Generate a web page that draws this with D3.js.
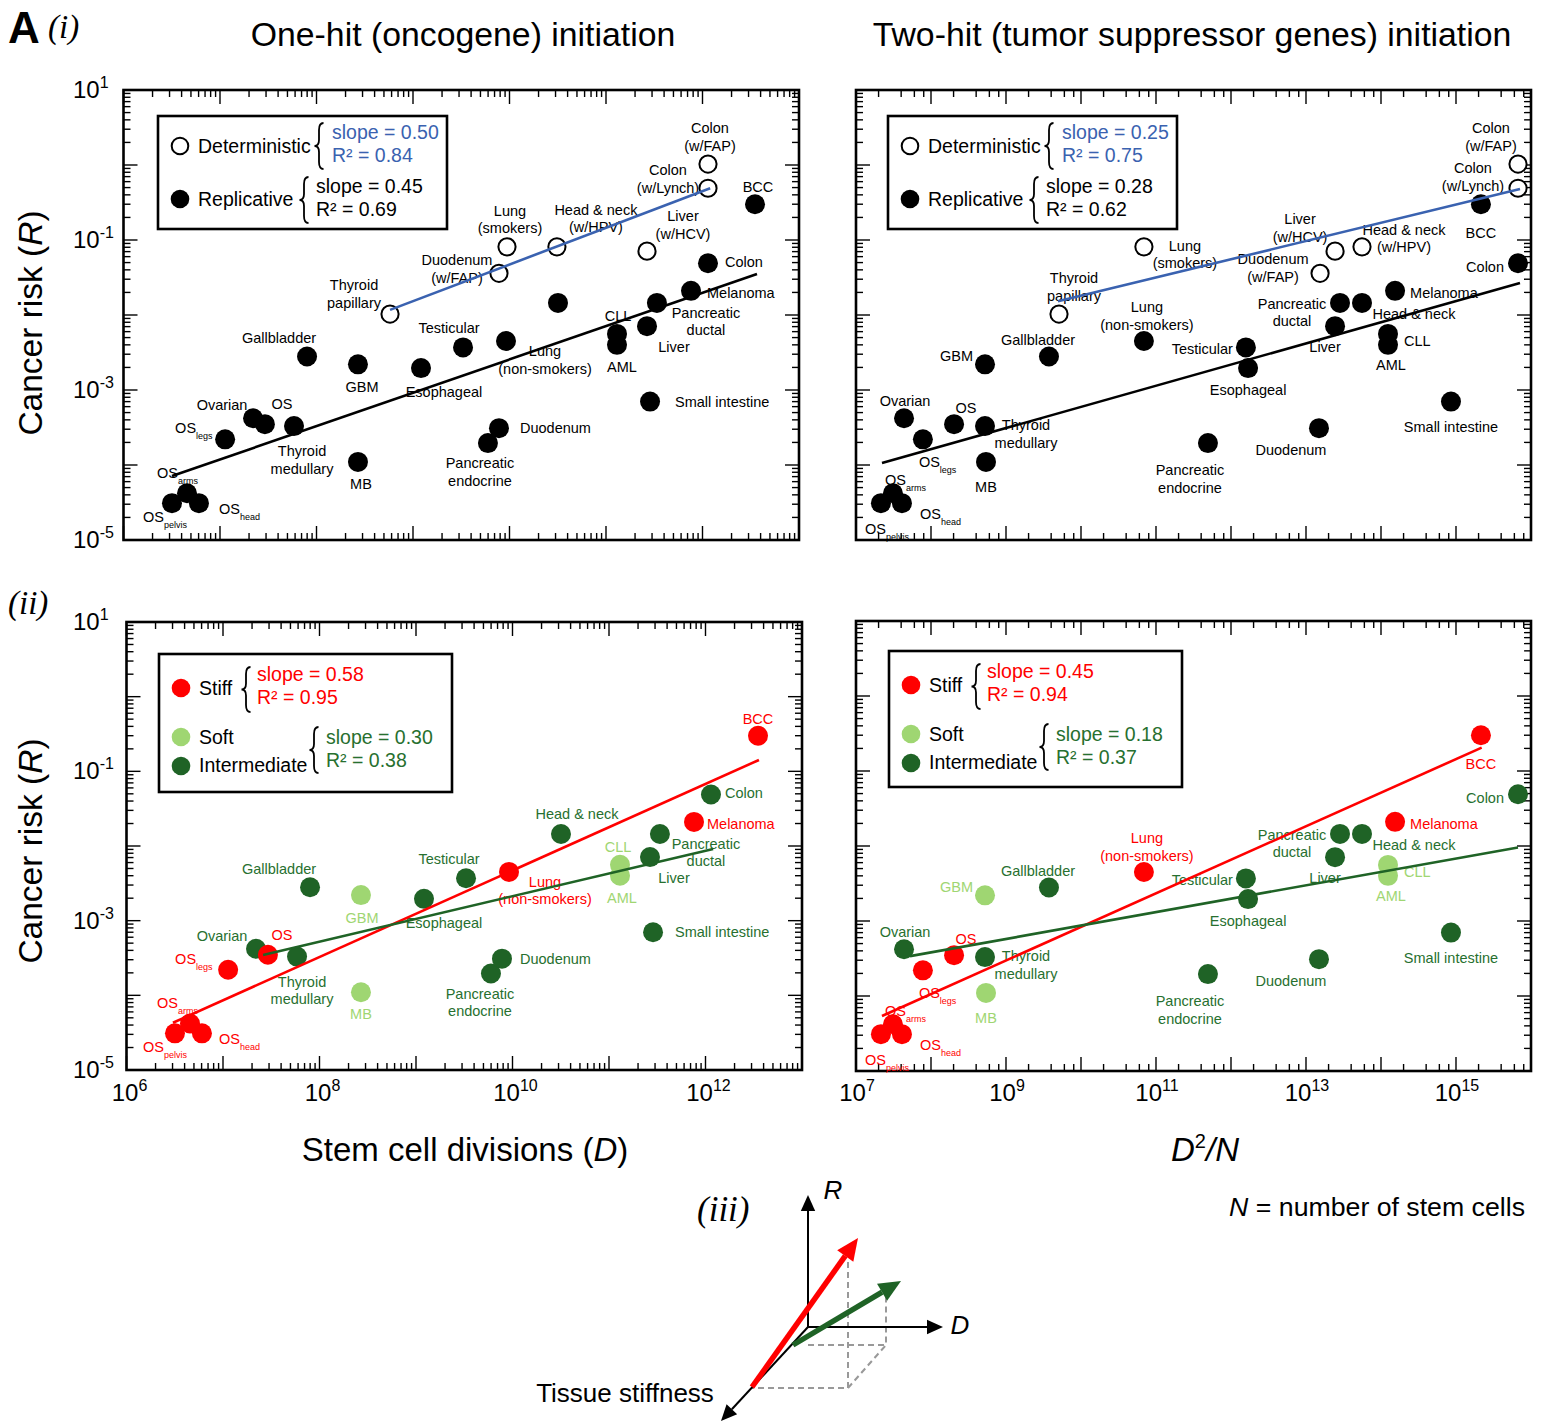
<!DOCTYPE html>
<html><head><meta charset="utf-8">
<script src="https://cdn.jsdelivr.net/npm/d3@7"></script>
<style>
body{margin:0;background:#fff}
svg{display:block}
text{font-family:"Liberation Sans",Arial,Helvetica,sans-serif}
</style>
</head><body>
<svg id="chart" width="1549" height="1424"></svg>
<script>
// ================= DATA =================
const cancerTypes = ["OS (pelvis)","OS (arms)","OS (head)","OS (legs)","Ovarian","OS","Thyroid medullary","Gallbladder","GBM","MB","Thyroid papillary","Esophageal","Testicular","Pancreatic endocrine","Duodenum","Duodenum (w/FAP)","Lung (non-smokers)","Lung (smokers)","Head & neck","Head & neck (w/HPV)","CLL","AML","Liver","Liver (w/HCV)","Small intestine","Pancreatic ductal","Melanoma","Colon","Colon (w/Lynch)","Colon (w/FAP)","BCC"];
const labelTexts = ["OS_pelvis","OS_arms","OS_head","OS_legs","Ovarian","OS","Thyroid\nmedullary","Gallbladder","GBM","MB","Thyroid\npapillary","Esophageal","Testicular","Pancreatic\nendocrine","Duodenum","Duodenum\n(w/FAP)","Lung\n(non-smokers)","Lung\n(smokers)","Head & neck","Head & neck\n(w/HPV)","CLL","AML","Liver","Liver\n(w/HCV)","Small intestine","Pancreatic\nductal","Melanoma","Colon","Colon\n(w/Lynch)","Colon\n(w/FAP)","BCC"];
// total stem cell divisions D
const stemCellDivisions = [3.18e6,4.55e6,6.05e6,1.13e7,2.2e7,2.92e7,5.85e7,7.98e7,2.69e8,2.69e8,5.78e8,1.21e9,3.3e9,5.98e9,7.78e9,7.78e9,9.2e9,9.42e9,3.18e10,3.1e10,1.3e11,1.3e11,2.66e11,2.66e11,2.86e11,3.37e11,7.6e11,1.14e12,1.14e12,1.14e12,3.5e12];
// D^2 / N
const d2OverN = [2.15e7,3.11e7,4.1e7,7.8e7,4.37e7,2.03e8,5.25e8,3.74e9,5.25e8,5.41e8,5.09e9,1.69e12,1.58e12,4.93e11,1.49e13,1.54e13,6.9e10,6.9e10,5.58e13,5.58e13,1.24e14,1.24e14,2.44e13,2.44e13,8.57e14,2.84e13,1.54e14,6.71e15,6.71e15,6.71e15,2.15e15];
// lifetime cancer risk R
const lifetimeRisk = [3.1e-5,4.2e-5,3.1e-5,2.2e-4,4.2e-4,3.5e-4,3.3e-4,2.8e-3,2.2e-3,1.1e-4,1.03e-2,1.96e-3,3.7e-3,1.96e-4,3.1e-4,0.036,4.5e-3,0.081,0.0145,0.081,5.6e-3,4.0e-3,7.1e-3,0.071,7e-4,0.0145,0.021,0.049,0.49,1.03,0.30];
// R = replicative, D = deterministic
const riskType = ["R","R","R","R","R","R","R","R","R","R","D","R","R","R","R","D","R","D","R","D","R","R","R","D","R","R","R","R","D","D","R"];
const tissueStiffness = ["stiff","stiff","stiff","stiff","intermediate","stiff","intermediate","intermediate","soft","soft",null,"intermediate","intermediate","intermediate","intermediate",null,"stiff",null,"intermediate",null,"soft","soft","intermediate",null,"intermediate","intermediate","stiff","intermediate",null,null,"stiff"];

// fitted lines: [[x0, R0], [x1, R1]]
const fitOneHitDeterministic = [[5.78e8, 0.0117], [1.2e12, 0.49]];
const fitOneHitReplicative   = [[3.18e6, 7.13e-5], [3.67e12, 0.0352]];
const fitTwoHitDeterministic = [[4.93e9, 0.0152], [7.13e15, 0.479]];
const fitTwoHitReplicative   = [[2.22e7, 1.06e-4], [7.13e15, 0.0267]];
const fitOneHitStiff         = [[3.03e6, 4.29e-5], [3.58e12, 0.142]];
const fitOneHitSoftInter     = [[2.6e7, 3.48e-4], [1.2e12, 9.14e-3]];
const fitTwoHitStiff         = [[2.22e7, 5.42e-5], [2.2e15, 0.205]];
const fitTwoHitSoftInter     = [[5.25e7, 3.4e-4], [6.71e15, 9.57e-3]];

const statsOneHitDet = ["slope = 0.50", "R\u00B2 = 0.84"];
const statsOneHitRep = ["slope = 0.45", "R\u00B2 = 0.69"];
const statsTwoHitDet = ["slope = 0.25", "R\u00B2 = 0.75"];
const statsTwoHitRep = ["slope = 0.28", "R\u00B2 = 0.62"];
const statsOneHitStiff = ["slope = 0.58", "R\u00B2 = 0.95"];
const statsOneHitSoft  = ["slope = 0.30", "R\u00B2 = 0.38"];
const statsTwoHitStiff = ["slope = 0.45", "R\u00B2 = 0.94"];
const statsTwoHitSoft  = ["slope = 0.18", "R\u00B2 = 0.37"];

const yTickExponents = [1, -1, -3, -5];
const xTickExponentsLeft = [6, 8, 10, 12];
const xTickExponentsRight = [7, 9, 11, 13, 15];

// ================= LAYOUT / STYLE =================
const C = {
  blue: "#3a62b0", red: "#ff0000", soft: "#9fd672", inter: "#1f6326",
  interText: "#27702f", softText: "#9fd672"
};
// label offsets [dx, dy (centre of first line), anchor]
const leftLabelPos = [
 [-29,14,"start"],[-30,-20,"start"],[20,6,"start"],[-50,-11,"start"],[-31,-13,"middle"],[17,-20,"middle"],
 [8,25,"middle"],[-28,-18,"middle"],[4,23,"middle"],[3,22,"middle"],[-36,-29,"middle"],[23,24,"middle"],
 [-14,-19,"middle"],[-8,20,"middle"],[21,0,"start"],[-42,-13,"middle"],[39,10,"middle"],[3,-36,"middle"],
 null,[39,-37,"middle"],[1,-18,"middle"],[5,22,"middle"],[27,21,"middle"],[36,-35,"middle"],[25,0,"start"],
 [49,10,"middle"],[16,2,"start"],[17,-1,"start"],[-40,-18,"middle"],[2,-36,"middle"],[3,-17,"middle"]
];
const leftLabelPosBottomOverride = {18: [19,-20,"middle"]};
const rightLabelPos = [
 [-16,26,"start"],[-8,-13,"start"],[18,11,"start"],[-4,23,"start"],[1,-17,"middle"],[12,-16,"middle"],
 [41,-1,"middle"],[-11,-16,"middle"],[-12,-8,"end"],[0,25,"middle"],[15,-36,"middle"],[0,22,"middle"],
 [-13,2,"end"],[-18,27,"middle"],[-28,22,"middle"],[-47,-14,"middle"],[3,-34,"middle"],[41,-1,"middle"],
 [52,11,"middle"],[42,-17,"middle"],[16,7,"start"],[3,20,"middle"],[-10,21,"middle"],[-35,-32,"middle"],[0,25,"middle"],
 [-48,1,"middle"],[15,2,"start"],[-14,4,"end"],[-45,-20,"middle"],[-27,-36,"middle"],[0,29,"middle"]
];

const svg = d3.select("#chart");

function colorOf(i){
  const s = tissueStiffness[i];
  return s === "stiff" ? C.red : s === "soft" ? C.soft : C.inter;
}
function labelColorOf(i){
  const s = tissueStiffness[i];
  return s === "stiff" ? C.red : s === "soft" ? C.softText : C.interText;
}

function drawFrame(g, x, y, xMinor){
  const [x0, x1] = x.range();
  const [y0, y1] = y.range();
  const tg = g.append("g").attr("stroke","#000").attr("stroke-width",1.4);
  const tick = (ax, pos, len) => {
    if (ax === "x") {
      tg.append("line").attr("x1",pos).attr("x2",pos).attr("y1",y0).attr("y2",y0-len);
      tg.append("line").attr("x1",pos).attr("x2",pos).attr("y1",y1).attr("y2",y1+len);
    } else {
      tg.append("line").attr("y1",pos).attr("y2",pos).attr("x1",x0).attr("x2",x0+len);
      tg.append("line").attr("y1",pos).attr("y2",pos).attr("x1",x1).attr("x2",x1-len);
    }
  };
  const [dx0, dx1] = x.domain();
  for (let e = Math.round(Math.log10(dx0)); e <= Math.round(Math.log10(dx1)); e++) {
    tick("x", x(Math.pow(10,e)), 14);
    xMinor.forEach(m => { const v = m*Math.pow(10,e); if (v < dx1) tick("x", x(v), 7); });
  }
  const [dy0, dy1] = y.domain();
  for (let e = Math.round(Math.log10(dy0)); e <= Math.round(Math.log10(dy1)); e++) {
    tick("y", y(Math.pow(10,e)), 14);
    [2,3,4,5,6,7,8,9].forEach(m => { const v = m*Math.pow(10,e); if (v < dy1) tick("y", y(v), 7); });
  }
  tg.append("rect").attr("x",x0).attr("y",y1).attr("width",x1-x0).attr("height",y0-y1)
    .attr("fill","none").attr("stroke","#000").attr("stroke-width",2.6);
}

function drawLabel(g, text, x, y, anchor, color){
  text.split("\n").forEach((ln, k) => {
    const t = g.append("text").attr("x", x).attr("y", y + k*17.5 + 5)
      .attr("text-anchor", anchor).attr("fill", color).style("font-size","14.5px");
    if (ln.includes("_")) {
      const [a, b] = ln.split("_");
      t.append("tspan").text(a);
      t.append("tspan").attr("dy", 6).style("font-size","9px").text(b);
    } else t.text(ln);
  });
}

function brace(g, x, yA, yB, color){
  const ym = (yA + yB) / 2, w = 4.5;
  g.append("path").attr("d",
    `M${x+w},${yA} Q${x},${yA} ${x},${yA+7} L${x},${ym-6} Q${x},${ym} ${x-w},${ym} Q${x},${ym} ${x},${ym+6} L${x},${yB-7} Q${x},${yB} ${x+w},${yB}`)
    .attr("fill","none").attr("stroke",color||"#000").attr("stroke-width",1.8);
}

function fitLine(g, x, y, fit, color){
  g.append("line").attr("x1", x(fit[0][0])).attr("y1", y(fit[0][1]))
    .attr("x2", x(fit[1][0])).attr("y2", y(fit[1][1]))
    .attr("stroke", color).attr("stroke-width", 2.6);
}

function panel(opts){
  const g = svg.append("g");
  const x = d3.scaleLog().domain(opts.xDomain).range(opts.xRange);
  const y = d3.scaleLog().domain([1e-5, 10]).range(opts.yRange);
  drawFrame(g, x, y, opts.xMinor);
  const xs = opts.xValues;
  const idx = d3.range(cancerTypes.length).filter(i => opts.colored ? riskType[i] === "R" : true);
  const pg = g.append("g");
  idx.forEach(i => {
    const cx = x(xs[i]), cy = y(lifetimeRisk[i]);
    if (!opts.colored && riskType[i] === "D") {
      pg.append("circle").attr("cx",cx).attr("cy",cy).attr("r",8.6)
        .attr("fill","#fff").attr("stroke","#000").attr("stroke-width",2);
    } else {
      pg.append("circle").attr("cx",cx).attr("cy",cy).attr("r",10)
        .attr("fill", opts.colored ? colorOf(i) : "#000");
    }
  });
  const lg = g.append("g");
  const shift = opts.labelShift || 0;
  idx.forEach(i => {
    let p = opts.labelPos[i];
    if (opts.override && opts.override[i]) p = opts.override[i];
    if (!p) return;
    drawLabel(lg, labelTexts[i], x(xs[i]) + p[0] + shift, y(lifetimeRisk[i]) + p[1], p[2],
      opts.colored ? labelColorOf(i) : "#000");
  });
  opts.fits.forEach(f => fitLine(g, x, y, f[0], f[1]));
  return {g, x, y};
}

// ----- panels -----
const TL = panel({xDomain:[1e6,1e13], xRange:[123.5,799], yRange:[540,90], xMinor:[2,3,4,5,6,7,8,9],
  xValues: stemCellDivisions, labelPos: leftLabelPos, colored:false,
  fits:[[fitOneHitDeterministic, C.blue],[fitOneHitReplicative, "#000"]]});
const TR = panel({xDomain:[1e7,1e16], xRange:[856,1531], yRange:[540,90], xMinor:[2,4,6,8],
  xValues: d2OverN, labelPos: rightLabelPos, colored:false,
  fits:[[fitTwoHitDeterministic, C.blue],[fitTwoHitReplicative, "#000"]]});
const BL = panel({xDomain:[1e6,1e13], xRange:[126.5,802], yRange:[1070,622], xMinor:[2,3,4,5,6,7,8,9],
  xValues: stemCellDivisions, labelPos: leftLabelPos, override: leftLabelPosBottomOverride, colored:true, labelShift:-3,
  fits:[[fitOneHitStiff, C.red],[fitOneHitSoftInter, C.inter]]});
const BR = panel({xDomain:[1e7,1e16], xRange:[856,1531], yRange:[1071,621], xMinor:[2,4,6,8],
  xValues: d2OverN, labelPos: rightLabelPos, colored:true,
  fits:[[fitTwoHitStiff, C.red],[fitTwoHitSoftInter, C.inter]]});

// ----- tick labels -----
function powLabel(g, x, y, exp, anchor){
  const t = g.append("text").attr("x",x).attr("y",y).attr("text-anchor",anchor).style("font-size","24px");
  t.append("tspan").text("10");
  t.append("tspan").attr("dy",-10).style("font-size","16px").text(exp < 0 ? "-" + Math.abs(exp) : exp);
}
[TL, BL].forEach(P => {
  yTickExponents.forEach(e => powLabel(svg, 73, P.y(Math.pow(10,e)) + 8, e, "start"));
});
xTickExponentsLeft.forEach(e => powLabel(svg, BL.x(Math.pow(10,e)) + 3, 1101, e, "middle"));
xTickExponentsRight.forEach(e => powLabel(svg, BR.x(Math.pow(10,e)) + 1, 1101, e, "middle"));

// ----- legends -----
function topLegend(bx, by, det, rep){
  const g = svg.append("g");
  g.append("rect").attr("x",bx).attr("y",by).attr("width",289).attr("height",113)
    .attr("fill","#fff").attr("stroke","#000").attr("stroke-width",2.6);
  g.append("circle").attr("cx",bx+22).attr("cy",by+30).attr("r",8.3).attr("fill","#fff").attr("stroke","#000").attr("stroke-width",2);
  g.append("text").attr("x",bx+40).attr("y",by+37).style("font-size","19.5px").text("Deterministic");
  brace(g, bx+161, by+7, by+53);
  g.append("text").attr("x",bx+174).attr("y",by+23).attr("fill",C.blue).style("font-size","19.5px").text(det[0]);
  g.append("text").attr("x",bx+174).attr("y",by+46).attr("fill",C.blue).style("font-size","19.5px").text(det[1]);
  g.append("circle").attr("cx",bx+22).attr("cy",by+83).attr("r",9.3).attr("fill","#000");
  g.append("text").attr("x",bx+40).attr("y",by+90).style("font-size","19.5px").text("Replicative");
  brace(g, bx+146, by+61, by+107);
  g.append("text").attr("x",bx+158).attr("y",by+77).style("font-size","19.5px").text(rep[0]);
  g.append("text").attr("x",bx+158).attr("y",by+100).style("font-size","19.5px").text(rep[1]);
}
function bottomLegend(bx, by, h, stiff, soft){
  const g = svg.append("g");
  g.append("rect").attr("x",bx).attr("y",by).attr("width",293).attr("height",h)
    .attr("fill","#fff").attr("stroke","#000").attr("stroke-width",2.6);
  g.append("circle").attr("cx",bx+22).attr("cy",by+34).attr("r",9.3).attr("fill",C.red);
  g.append("text").attr("x",bx+40).attr("y",by+41).style("font-size","19.5px").text("Stiff");
  brace(g, bx+87, by+13, by+58);
  g.append("text").attr("x",bx+98).attr("y",by+27).attr("fill",C.red).style("font-size","19.5px").text(stiff[0]);
  g.append("text").attr("x",bx+98).attr("y",by+50).attr("fill",C.red).style("font-size","19.5px").text(stiff[1]);
  g.append("circle").attr("cx",bx+22).attr("cy",by+83).attr("r",9.3).attr("fill",C.soft);
  g.append("text").attr("x",bx+40).attr("y",by+90).style("font-size","19.5px").text("Soft");
  g.append("circle").attr("cx",bx+22).attr("cy",by+112).attr("r",9.3).attr("fill",C.inter);
  g.append("text").attr("x",bx+40).attr("y",by+118).style("font-size","19.5px").text("Intermediate");
  brace(g, bx+155, by+73, by+119);
  g.append("text").attr("x",bx+167).attr("y",by+90).attr("fill",C.interText).style("font-size","19.5px").text(soft[0]);
  g.append("text").attr("x",bx+167).attr("y",by+113).attr("fill",C.interText).style("font-size","19.5px").text(soft[1]);
}
topLegend(158, 116, statsOneHitDet, statsOneHitRep);
topLegend(888, 116, statsTwoHitDet, statsTwoHitRep);
bottomLegend(159, 654, 138, statsOneHitStiff, statsOneHitSoft);
bottomLegend(889, 651, 136, statsTwoHitStiff, statsTwoHitSoft);

// ----- titles & axis titles -----
svg.append("text").attr("x",8).attr("y",43).style("font-size","44px").style("font-weight","bold").text("A");
svg.append("text").attr("x",48).attr("y",38).style("font-family","'Liberation Serif',serif").style("font-style","italic").style("font-size","33px").text("(i)");
svg.append("text").attr("x",8).attr("y",614).style("font-family","'Liberation Serif',serif").style("font-style","italic").style("font-size","33px").text("(ii)");
svg.append("text").attr("x",697).attr("y",1221).style("font-family","'Liberation Serif',serif").style("font-style","italic").style("font-size","35px").text("(iii)");
svg.append("text").attr("x",463).attr("y",46).attr("text-anchor","middle").style("font-size","33.8px").text("One-hit (oncogene) initiation");
svg.append("text").attr("x",1192).attr("y",46).attr("text-anchor","middle").style("font-size","33.8px").text("Two-hit (tumor suppressor genes) initiation");
[323, 851].forEach(cy => {
  const t = svg.append("text").attr("transform",`translate(42,${cy}) rotate(-90)`).attr("text-anchor","middle").style("font-size","33.5px");
  t.append("tspan").text("Cancer risk (");
  t.append("tspan").style("font-style","italic").text("R");
  t.append("tspan").text(")");
});
{
  const t = svg.append("text").attr("x",465).attr("y",1161).attr("text-anchor","middle").style("font-size","33px");
  t.append("tspan").text("Stem cell divisions (");
  t.append("tspan").style("font-style","italic").text("D");
  t.append("tspan").text(")");
  const t2 = svg.append("text").attr("x",1205).attr("y",1161).attr("text-anchor","middle").style("font-size","33px").style("font-style","italic");
  t2.append("tspan").text("D");
  t2.append("tspan").attr("dy",-13).style("font-size","20px").style("font-style","normal").text("2");
  t2.append("tspan").attr("dy",13).text("/N");
  const t3 = svg.append("text").attr("x",1525).attr("y",1216).attr("text-anchor","end").style("font-size","26.7px");
  t3.append("tspan").style("font-style","italic").text("N");
  t3.append("tspan").text(" = number of stem cells");
}

// ----- (iii) schematic -----
{
  const g = svg.append("g");
  const O = [808, 1327];
  const dash = g.append("g").attr("stroke","#999").attr("stroke-width",2).attr("stroke-dasharray","6,4").attr("fill","none");
  dash.append("path").attr("d","M848,1262 L848,1388 L752,1388");
  dash.append("path").attr("d","M848,1388 L886,1345 L886,1296");
  dash.append("path").attr("d","M848,1345 L886,1345");
  dash.append("path").attr("d","M808,1345 L848,1345");
  function arrow(x1,y1,x2,y2,color,width,head){
    const a = Math.atan2(y2-y1, x2-x1);
    const bx = x2 - head*Math.cos(a), by = y2 - head*Math.sin(a);
    g.append("line").attr("x1",x1).attr("y1",y1).attr("x2",bx).attr("y2",by).attr("stroke",color).attr("stroke-width",width);
    const hw = head*0.45;
    g.append("path").attr("d",`M${x2},${y2} L${bx + hw*Math.sin(a)},${by - hw*Math.cos(a)} L${bx - hw*Math.sin(a)},${by + hw*Math.cos(a)} Z`).attr("fill",color);
  }
  arrow(O[0],O[1],808,1195,"#000",2,16);
  arrow(O[0],O[1],943,1327,"#000",2,16);
  arrow(O[0],O[1],721,1421,"#000",2,16);
  arrow(752,1387,858,1238,C.red,5.5,22);
  arrow(793,1345,901,1281,C.inter,5.5,22);
  g.append("text").attr("x",833).attr("y",1199).attr("text-anchor","middle").style("font-size","26px").style("font-style","italic").text("R");
  g.append("text").attr("x",960).attr("y",1334).attr("text-anchor","middle").style("font-size","26px").style("font-style","italic").text("D");
  g.append("text").attr("x",625).attr("y",1402).attr("text-anchor","middle").style("font-size","26px").text("Tissue stiffness");
}
</script>
</body></html>
